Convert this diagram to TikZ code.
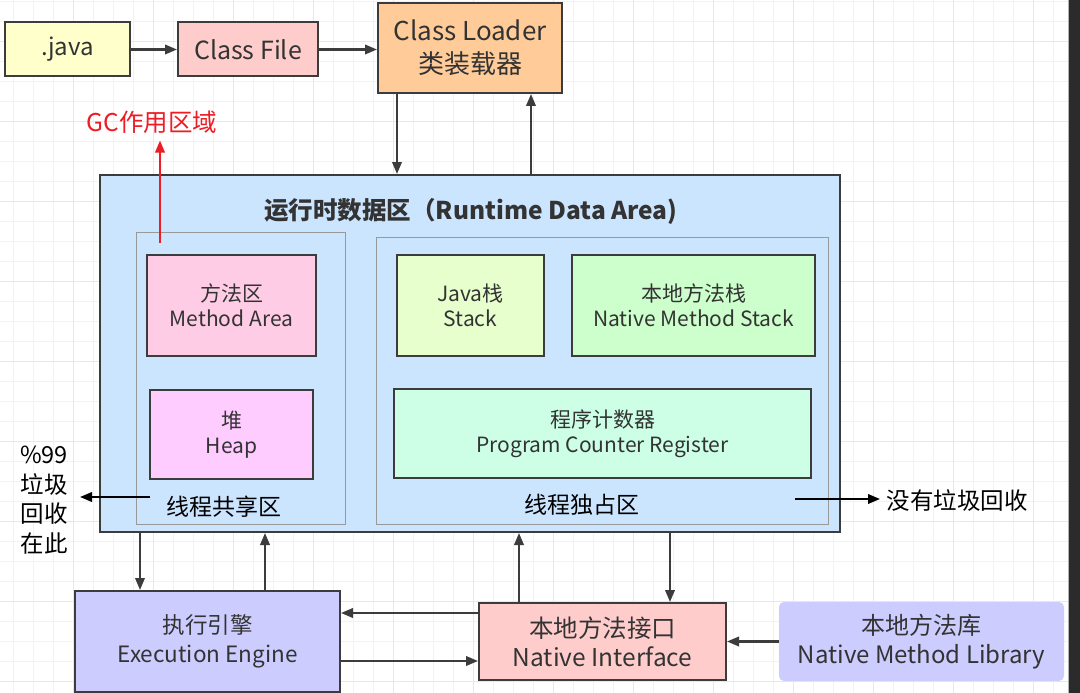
\documentclass[tikz,border=0pt]{standalone}
\usepackage{fontspec}
\setmainfont{Noto Sans CJK SC}
\usetikzlibrary{arrows.meta}
\definecolor{txt}{HTML}{333333}
\definecolor{edge}{HTML}{3C3C3C}
\definecolor{gridminor}{HTML}{F2F2F2}
\definecolor{gridmajor}{HTML}{E8E8E8}
\definecolor{cjava}{HTML}{FFFFCC}
\definecolor{cfile}{HTML}{FFCCCC}
\definecolor{cloader}{HTML}{FFCC99}
\definecolor{crda}{HTML}{CCE5FF}
\definecolor{cmethod}{HTML}{FFCCE6}
\definecolor{cheap}{HTML}{FFCCFF}
\definecolor{cjstack}{HTML}{E6FFCC}
\definecolor{cnstack}{HTML}{CCFFCC}
\definecolor{cpcr}{HTML}{CCFFE6}
\definecolor{cee}{HTML}{CCCCFF}
\definecolor{cni}{HTML}{FFCCCC}
\definecolor{gcred}{HTML}{EE1C25}
\definecolor{darkstrip}{HTML}{2B2B2B}
\tikzset{
  box/.style={draw=edge, line width=2pt, text=txt, align=center, inner sep=2pt},
  grp/.style={draw=gray!80, line width=1pt},
  arr/.style={draw=edge, line width=2.1pt, -{Triangle[length=12pt,width=9.5pt]}},
  blk/.style={draw=black, line width=2.1pt, -{Triangle[length=12pt,width=9.5pt]}},
  fbig/.style={font=\fontsize{26}{29}\selectfont},
  fmid/.style={font=\fontsize{25}{29}\selectfont},
  fsm/.style={font=\fontsize{21}{25}\selectfont},
  flbl/.style={font=\fontsize{23}{27}\selectfont},
}
\begin{document}
\begin{tikzpicture}[x=1pt,y=-1pt]
\useasboundingbox (0,0) rectangle (1080,693);
\fill[white] (0,0) rectangle (1080,693);
% grid
\foreach \x in {13,33,...,1073} \draw[gridminor, line width=0.8pt] (\x,0) -- (\x,693);
\foreach \y in {1.7,21.7,...,693} \draw[gridminor, line width=0.8pt] (0,\y) -- (1080,\y);
\foreach \x in {73,153,...,1073} \draw[gridmajor, line width=1pt] (\x,0) -- (\x,693);
\foreach \y in {41.7,121.7,...,693} \draw[gridmajor, line width=1pt] (0,\y) -- (1080,\y);
\fill[darkstrip] (1068,0) rectangle (1080,693);
\draw[gray!60, line width=0.8pt] (1068,0) -- (1068,693);

% top row
\node[box, fill=cjava, font=\fontsize{24}{28}\selectfont, minimum width=125, minimum height=54] (java) at (67.5,49.5) {.java};
\node[box, fill=cfile, fmid, minimum width=140, minimum height=54] (cf) at (248,49.5) {Class File};
\node[box, fill=cloader, fbig, minimum width=184, minimum height=90] (loader) at (470,48) {Class Loader\\[4pt]类装载器};
\draw[arr] (java.east) -- (cf.west);
\draw[arr] (cf.east) -- (cf.east -| loader.west);

% runtime data area
\node[box, fill=crda, minimum width=740, minimum height=357] (rda) at (470,353.5) {};
\node[text=txt, font=\fontsize{24.5}{28}\selectfont\bfseries] (title) at (471,211) {运行时数据区（Runtime Data Area)};
\node[grp, minimum width=209, minimum height=292] (shared) at (240.5,378) {};
\node[grp, minimum width=452, minimum height=287] (excl) at (602,380.5) {};
\node[box, fill=cmethod, fsm, minimum width=169, minimum height=101] (method) at (231.5,305.5) {方法区\\Method Area};
\node[box, fill=cheap, fsm, minimum width=163, minimum height=89] (heap) at (231.5,434.5) {堆\\Heap};
\node[text=black, flbl] (sharedlbl) at (224,507) {线程共享区};
\node[box, fill=cjstack, fsm, minimum width=147, minimum height=101] (jstack) at (470.5,305.5) {Java栈\\Stack};
\node[box, fill=cnstack, fsm, minimum width=243, minimum height=101] (nstack) at (693.5,305.5) {本地方法栈\\Native Method Stack};
\node[box, fill=cpcr, fsm, minimum width=417, minimum height=89] (pcr) at (602.5,433.5) {程序计数器\\Program Counter Register};
\node[text=black, flbl] (excllbl) at (582,505) {线程独占区};

% loader <-> rda
\coordinate (xa) at (397,0);
\coordinate (xb) at (531,0);
\draw[arr] (loader.south -| xa) -- (rda.north -| xa);
\draw[arr] (rda.north -| xb) -- (loader.south -| xb);

% GC label
\node[text=gcred, font=\fontsize{24.5}{28}\selectfont, inner sep=0pt] (gc) at (152,122) {GC作用区域};
\coordinate (gcs) at (160,243);
\draw[draw=gcred, line width=2.1pt, -{Triangle[length=12pt,width=9.5pt]}] (gcs) -- ([yshift=-7pt]gc.south -| gcs);

% left note
\node[text=black, align=center, font=\fontsize{23.5}{29.5}\selectfont, inner sep=0pt] (note) at (44,500) {\%99\\垃圾\\回收\\在此};
\coordinate (ls) at (150,497);
\coordinate (le) at (80,497);
\draw[blk] (ls) -- (le);

% right note
\node[text=black, font=\fontsize{23.5}{27}\selectfont, inner sep=0pt] (nogc) at (957,501) {没有垃圾回收};
\coordinate (rs) at (795,499);
\coordinate (re) at (880,499);
\draw[blk] (rs) -- (re);

% bottom row
\node[box, fill=cee, font=\fontsize{22.5}{27}\selectfont, minimum width=265, minimum height=101] (ee) at (207.5,641.5) {执行引擎\\[2pt]Execution Engine};
\node[box, fill=cni, font=\fontsize{24.5}{29}\selectfont, minimum width=247, minimum height=77] (ni) at (602.5,641.5) {本地方法接口\\Native Interface};
\node[fill=cee, text=txt, align=center, rounded corners=5pt, font=\fontsize{24}{28}\selectfont, minimum width=285, minimum height=79] (nml) at (921.5,641.5) {本地方法库\\[1pt]Native Method Library};

\coordinate (x1) at (140,0);
\coordinate (x2) at (265,0);
\coordinate (x3) at (519,0);
\coordinate (x4) at (670,0);
\coordinate (y1) at (0,613);
\coordinate (y2) at (0,661);
\draw[arr] (rda.south -| x1) -- (ee.north -| x1);
\draw[arr] (ee.north -| x2) -- (rda.south -| x2);
\draw[arr] (ni.north -| x3) -- (rda.south -| x3);
\draw[arr] (rda.south -| x4) -- (ni.north -| x4);
\draw[arr] (ni.west |- y1) -- (ee.east |- y1);
\draw[arr] (ee.east |- y2) -- (ni.west |- y2);
\draw[arr] (nml.west) -- (ni.east);
\end{tikzpicture}
\end{document}
